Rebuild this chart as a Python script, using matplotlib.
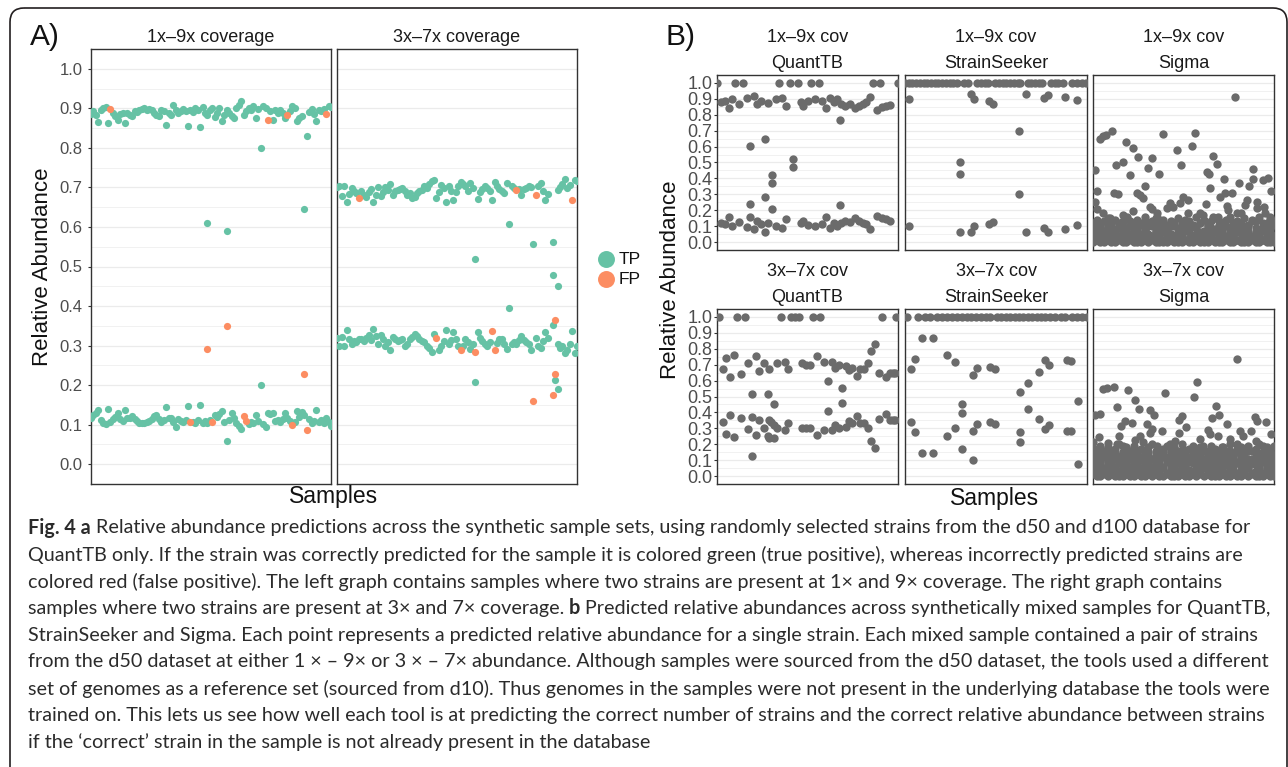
import matplotlib
matplotlib.use("Agg")
import matplotlib.pyplot as plt
from matplotlib.patches import FancyBboxPatch
from matplotlib.lines import Line2D

# ---------------- DATA ----------------
# Panel A : QuantTB, 100 samples per facet, values in thousandths (None = no point in band)
a19_hi = [885, 892, 883, 865, 895, 900, 903, 864, None, 888, 880, 871, 885, 888, 864, 888, 884, 880, 892, 890,
          896, 898, 900, 895, 898, 896, 888, 884, 880, 896, 893, 859, 888, 883, 909, 895, 888, 892, 898, 893,
          856, 896, 890, 900, 895, 853, 903, 888, 883, 895, 900, 878, 889, 900, 867, 884, 896, 888, 880, 875,
          900, 909, 918, 883, 893, 900, 896, 905, 875, 899, None, 907, 900, None, 892, 871, 896, 889, 896, 888,
          875, None, 893, 905, 900, 868, 875, 880, None, None, 890, 898, 886, 867, 896, 893, 898, None, 907, 903]
a19_lo = [118, 125, 130, 137, 112, 103, 101, 139, 107, 114, 120, 130, 114, 110, 137, 118, 116, 122, 114, 110,
          105, 103, 104, 106, 110, 114, 122, 124, 115, 106, 112, 145, 116, 118, 108, 94, 114, 110, 106, 112,
          146, None, 108, 105, 112, 150, 103, 109, 105, 112, None, 125, 120, 128, 134, 106, None, 112, 130, 118,
          105, 97, 88, None, None, 101, 108, 103, 125, 110, None, 101, 94, 130, 128, 130, 109, 112, 106, 115,
          129, 118, 110, None, 106, 135, 120, 133, 124, None, 114, 103, 110, 137, 106, 112, 105, 116, 108, 97]
a19_tp_x = [48, 56, 56, 70, 70, 88, 89]
a19_tp_y = [0.610, 0.590, 0.058, 0.800, 0.200, 0.645, 0.830]
a19_fp_x = [8, 73, 81, 97, 41, 50, 63, 64, 83, 89, 48, 56, 88]
a19_fp_y = [0.898, 0.871, 0.882, 0.886, 0.106, 0.106, 0.122, 0.110, 0.099, 0.087, 0.292, 0.350, 0.227]

a37_hi = [700, 704, 679, 703, 662, 684, 698, 692, 686, None, 690, 681, 676, 688, 695, 663, 682, 701, 678, 688,
          701, 694, 709, 682, 690, 693, 696, 698, 690, 682, 686, 674, 676, 686, 690, 694, 703, 698, 709, 715,
          720, 672, 688, 707, 698, 663, 704, 690, 668, 688, 703, 713, 708, 703, 692, 711, 698, None, 670, 688,
          695, 703, 698, 690, 667, 713, 703, 696, 692, 686, 711, None, 703, 698, None, 696, 680, 696, 698, 703,
          700, None, None, 703, 711, 690, 668, 684, None, None, None, 694, 701, 708, 721, 698, 705, None, 720, 715]
a37_lo = [318, 299, 322, 299, 339, 317, 303, 312, 308, 317, 316, 312, 320, 328, 315, 341, 324, 303, 328, 317,
          299, 310, 290, 321, 316, 312, 314, 317, 299, 305, 316, 322, 330, 324, 316, 312, 309, 299, 294, 284,
          330, None, 290, 300, 312, 339, 303, 315, 334, 317, 299, None, 299, 317, 308, 292, 305, None, 334, 320,
          312, 303, 299, 310, None, None, 307, 316, 317, 305, 292, None, 304, 310, 305, 315, 324, 314, 309, 303,
          288, None, 320, 300, 295, 312, 334, 320, None, None, None, 305, 295, 300, 282, 290, 303, 337, 282, 300]
a37_tp_x = [57, 57, 71, 71, 81, 89, 89, 91, 89, 90, 91]
a37_tp_y = [0.518, 0.208, 0.608, 0.396, 0.558, 0.563, 0.478, 0.450, 0.351, 0.213, 0.189]
a37_fp_x = [9, 74, 82, 97, 41, 51, 57, 64, 65, 90, 90, 81, 89]
a37_fp_y = [0.672, 0.694, 0.682, 0.667, 0.318, 0.289, 0.283, 0.336, 0.290, 0.364, 0.227, 0.159, 0.174]

# Panel B : sample positions (0-49) and predicted relative abundances
qt19_x = [0, 5.0, 7.0, 16.9, 19.8, 21.9, 25.5, 27.6, 42.2, 44.1, 48.9,
          1.0, 2.1, 3.2, 4.1, 5.9, 8.0, 10.0, 10.9, 12.0, 13.9, 15.9, 17.7, 18.7, 22.7, 23.4, 24.5, 26.5, 28.5,
          29.6, 30.6, 31.6, 32.4, 33.6, 34.6, 35.9, 37.4, 38.4, 39.5, 40.4, 41.3, 43.2, 44.7, 45.8, 46.9,
          33.4, 8.8, 12.9, 20.6, 20.6, 14.9, 14.9, 12.9, 14.9, 8.8, 33.4,
          1.0, 2.1, 3.2, 4.1, 5.9, 8.0, 8.8, 10.0, 10.9, 12.0, 12.9, 13.9, 15.9, 17.7, 18.7, 22.7, 23.4, 24.5,
          26.5, 28.5, 29.6, 30.6, 31.6, 32.4, 33.6, 34.6, 35.9, 37.4, 38.4, 39.5, 40.4, 41.3, 43.2, 44.7, 45.8, 46.9]
qt19_y = [1, 1, 1, 1, 1, 1, 1, 1, 1, 1, 1,
          .879, .889, .842, .896, .869, .904, .916, .869, .889, .873, .900, .904, .852, .879, .852, .889, .900, .885,
          .842, .904, .879, .896, .869, .852, .869, .840, .852, .865, .879, .910, .831, .848, .854, .862,
          .764, .602, .650, .525, .473, .421, .369, .281, .206, .2375, .233,
          .120, .115, .155, .100, .127, .094, .157, .083, .130, .115, .066, .120, .100, .090, .143, .120, .135, .110,
          .100, .115, .157, .090, .120, .100, .120, .135, .127, .148, .135, .120, .115, .083, .165, .150, .143, .135]

ss19_x = [0, 1, 2, 3, 4, 5, 6, 7, 8, 9, 10, 11, 12, 13, 14, 16, 17, 19.5, 20.5, 21.5, 22.3,
          24.3, 25.3, 26.3, 27.3, 28.3, 29.3, 30.3, 31, 33, 34, 35, 36, 37, 39.3, 40.3, 41.3, 42.5,
          45, 46.2, 47.6, 48.8,
          1.2, 1.2, 17.8, 18.7, 22.7, 23.8, 30.6, 14.9, 14.9, 30.6, 32.5, 37.5, 38.4, 43.2, 46.2,
          14.9, 17.8, 18.7, 22.7, 23.8, 32.5, 37.5, 38.4, 43.2, 46.2]
ss19_y = [1] * 42 + [.896, .102, .931, .896, .885, .869, .698, .502, .427, .300, .929, .906, .927, .914, .894,
                     .066, .066, .102, .114, .129, .066, .087, .066, .083, .108]

qt37_x = [0.5, 5.5, 7.5, 17.4, 19.9, 21.0, 22.2, 25.9, 28.0, 44.7, 48.5,
          1.6, 1.6, 2.5, 2.5, 3.5, 3.5, 4.5, 4.5, 6.4, 6.4, 8.5, 8.5, 9.5, 9.5, 9.5, 10.5, 10.5, 11.4, 11.4,
          12.6, 12.6, 13.8, 13.8, 14.0, 14.2, 14.2, 15.3, 14.7, 15.4, 15.3, 16.3, 16.3, 18.3, 18.3, 19.2, 19.2,
          23.1, 24.0, 25.1, 23.1, 24.0, 25.1, 27.0, 27.0, 28.9, 28.9, 30.0, 30.0, 31.0, 31.0, 32.0, 32.0,
          32.9, 32.9, 33.9, 33.9, 34.8, 34.8, 35.7, 35.7, 36.6, 36.6, 37.8, 37.8, 38.8, 39.7, 38.8, 39.7,
          40.8, 40.8, 41.7, 41.7, 42.8, 42.8, 43.8, 43.8, 45.8, 45.8, 46.7, 47.6, 48.3, 46.7, 47.6, 48.3]
qt37_y = [1, 1, 1, 1, 1, 1, 1, 1, 1, 1, 1,
          .675, .3375, .744, .264, .623, .383, .764, .244, .644, .3625, .7125, .296, .514, .3725, .125, .754, .26,
          .66, .35, .71, .30, .514, .25, .24, .67, .35, .452, .34, .32, .24, .71, .30, .72, .29, .675, .335,
          .71, .70, .70, .30, .305, .305, .755, .26, .72, .29, .60, .41, .72, .29, .68, .32,
          .70, .30, .552, .458, .69, .31, .665, .345, .68, .335, .63, .38, .675, .675, .335, .335,
          .71, .30, .785, .22, .833, .175, .65, .36, .62, .39, .65, .65, .65, .355, .355, .355]

ss37_x = [0.6, 3.4, 5.4, 6.6, 8.5, 9.9, 11.2, 12.6, 14.0, 15.3, 16.6, 17.9, 19.2, 20.5, 21.8, 22.9,
          24.7, 25.9, 27.1, 28.3, 29.5, 30.7, 31.9, 33.1, 34.3, 35.5, 36.7, 37.8, 39.1, 40.5, 41.9, 43.2,
          45.0, 46.3, 47.6, 48.9,
          1.6, 1.6, 2.7, 2.7, 4.7, 4.7, 7.5, 7.5, 11.4, 11.4, 13.4, 13.4, 15.4, 15.4, 15.4, 18.3, 18.3, 18.3,
          19.3, 19.3, 22.9, 24.3, 22.9, 24.3, 31.0, 31.0, 31.0, 33.0, 33.0, 36.0, 36.0, 37.8, 38.8, 37.8, 38.8,
          43.6, 44.7, 43.6, 44.7, 46.6, 46.6]
ss37_y = [1] * 36 + [.675, .34, .736, .279, .868, .143, .868, .143, .764, .25, .716, .30, .452, .394, .17,
                     .633, .285, .104, .679, .33, .687, .671, .338, .327, .531, .275, .216, .5875, .42,
                     .654, .358, .727, .696, .295, .32, .727, .723, .285, .285, .469, .077]

sg19_x = [38.4, 1.9, 2.8, 3.5, 5.1, 8.9, 10.9, 18.9, 22.8, 23.8, 26.7, 27.7, 12.1, 15.9, 32.6, 33.6, 6.1, 8.2,
          0.5, 10.0, 15.0, 17.9, 30.8, 31.3, 35.5, 43.4, 43.2, 14.0, 1.2, 31.7, 39.6, 42.3, 46.1, 47.3, 48.3,
          35.7, 37.5, 34.5, 5.8, 6.9, 11.8, 12.7, 13.6, 24.4, 25.8, 0.5, 1.2, 20.8, 21.7, 19.9, 15.4, 16.1,
          17.2, 8.0, 9.1, 10.9, 30.6, 29.0, 29.9, 36.2, 36.6, 41.6, 41.1, 40.2, 44.3, 44.5, 46.4, 46.5, 33.9,
          2.8, 4.6, 17.2, 23.5, 25.8, 32.6, 38.9, 47.9]
sg19_y = [.910, .650, .664, .670, .696, .629, .594, .681, .581, .487, .601, .685, .535, .529, .539, .489, .483, .504,
          .452, .421, .466, .427, .441, .427, .396, .456, .396, .354, .323, .337, .369, .354, .389, .400, .323,
          .310, .310, .285, .310, .302, .306, .296, .275, .281, .264, .254, .208, .244, .223, .212, .223, .206,
          .181, .171, .160, .192, .239, .181, .171, .227, .202, .264, .233, .181, .254, .212, .223, .181, .160,
          .181, .150, .160, .244, .180, .160, .180, .160]
# dense low-abundance predictions of Sigma (hundredths), one value per sample in each row
sg19_d1 = [0, 1, 0, 0, 1, 0, 0, 1, 0, 0, 1, 0, 0, 0, 1, 0, 1, 0, 0, 0, 0, 1, 0, 0, 0,
           1, 0, 0, 1, 0, 0, 0, 1, 0, 0, 0, 1, 0, 0, 1, 0, 0, 0, 1, 0, 0, 1, 0, 0, 0]
sg19_d2 = [3, 2, 4, 2, 3, 1, 2, 4, 3, 2, 2, 3, 1, 4, 2, 3, 2, 2, 4, 1, 3, 2, 2, 4, 3,
           1, 2, 3, 2, 4, 2, 3, 2, 1, 3, 4, 2, 2, 3, 1, 2, 4, 3, 2, 2, 3, 1, 3, 2, 4]
sg19_d3 = [5, 6, 4, 7, 5, 6, 5, 4, 6, 7, 5, 4, 6, 5, 7, 5, 4, 6, 5, 6, 7, 5, 4, 6, 5,
           7, 6, 4, 5, 6, 5, 7, 4, 6, 5, 6, 4, 7, 5, 6, 6, 5, 7, 4, 6, 5, 7, 5, 6, 4]
sg19_d4 = [9, 8, 11, 7, 10, 12, 8, 9, 13, 7, 10, 8, 9, 11, 8, 12, 10, 7, 9, 11, 8, 10, 12, 9, 7,
           11, 8, 10, 9, 12, 7, 11, 9, 8, 13, 9, 10, 8, 12, 9, 11, 8, 10, 13, 9, 7, 10, 12, 8, 11]
sg19_d5 = [12, 14, 10, 13, 15, 11, 14, 12, 10, 15, 13, 11, 14, 12, 16, 10, 13, 15, 12, 14, 11, 13, 10, 15, 12,
           14, 13, 11, 16, 12, 14, 10, 13, 15, 11, 12, 14, 16, 10, 13, 12, 15, 11, 14, 13, 16, 12, 10, 14, 13]

sg37_x = [38.9, 2.8, 3.7, 5.7, 9.6, 19.5, 28.2, 27.3, 11.5, 6.6, 12.5, 15.4, 33.2, 34.2, 32.2, 0.5, 1.9, 8.7,
          10.6, 14.5, 16.6, 23.4, 24.0, 36.2, 43.8, 44.5, 46.8, 1.7, 0.1, 7.6, 7.0, 12.7, 13.6, 16.1, 15.4,
          18.6, 25.3, 23.4, 31.2, 31.7, 33.9, 39.8, 40.7, 42.9, 48.3, 44.1, 4.1, 6.4, 8.2, 11.4, 17.2, 20.8,
          22.2, 29.0, 29.9, 35.3, 37.1, 38.9, 46.1, 24.4, 14.5, 1.0]
sg37_y = [.733, .546, .556, .562, .541, .520, .594, .500, .479, .431, .421, .414, .442, .385, .362, .385, .390, .348,
          .331, .327, .385, .352, .379, .327, .373, .348, .342, .244, .213, .313, .254, .254, .217, .296, .269,
          .285, .306, .269, .292, .265, .254, .285, .254, .285, .265, .223, .208, .202, .192, .229, .192, .202,
          .223, .233, .192, .181, .233, .202, .192, .171, .171, .171]
sg37_d1 = [1, 0, 0, 1, 0, 1, 0, 0, 0, 1, 0, 0, 1, 0, 0, 1, 0, 1, 0, 0, 1, 0, 0, 0, 1,
           0, 0, 1, 0, 1, 0, 1, 0, 0, 0, 1, 0, 0, 1, 0, 0, 1, 0, 1, 0, 0, 0, 1, 0, 0]
sg37_d2 = [3, 4, 2, 5, 3, 2, 4, 3, 5, 2, 4, 3, 2, 4, 5, 3, 2, 4, 3, 5, 2, 4, 3, 3, 5,
           2, 4, 2, 3, 4, 5, 3, 2, 4, 3, 5, 2, 4, 3, 2, 4, 3, 5, 2, 3, 4, 2, 5, 3, 4]
sg37_d3 = [7, 6, 8, 5, 9, 7, 6, 8, 7, 9, 6, 8, 7, 5, 8, 9, 6, 7, 8, 6, 9, 7, 5, 8, 6,
           7, 9, 8, 6, 7, 8, 6, 9, 7, 5, 8, 7, 9, 6, 8, 7, 9, 6, 8, 7, 5, 9, 6, 8, 7]
sg37_d4 = [10, 11, 9, 12, 10, 8, 11, 12, 9, 10, 12, 9, 11, 10, 8, 12, 11, 9, 10, 12, 11, 8, 10, 12, 9,
           11, 10, 12, 9, 11, 10, 12, 8, 11, 10, 9, 12, 10, 11, 9, 12, 10, 11, 8, 12, 10, 9, 11, 12, 10]
sg37_d5 = [14, 12, 15, 13, 11, 16, 14, 12, 15, 13, 11, 14, 16, 12, 13, 15, 11, 14, 13, 16, 12, 15, 13, 11, 14,
           16, 12, 15, 13, 14, 11, 16, 13, 15, 12, 14, 11, 16, 13, 15, 12, 14, 16, 11, 15, 13, 14, 12, 16, 13]
sg37_d6 = [17, 15, 19, 16, 18, 14, 17, 20, 15, 18, 16, 19, 14, 17, 15, 18, 20, 16, 14, 17, 19, 15, 18, 16, 20,
           14, 17, 19, 15, 18, 16, 14, 19, 17, 15, 18, 16, 20, 14, 17, 18, 15, 19, 16, 17, 20, 15, 18, 16, 19]

y_ticks = [0.0, 0.1, 0.2, 0.3, 0.4, 0.5, 0.6, 0.7, 0.8, 0.9, 1.0]
y_minor = [0.05, 0.15, 0.25, 0.35, 0.45, 0.55, 0.65, 0.75, 0.85, 0.95]
y_labels = ["0.0", "0.1", "0.2", "0.3", "0.4", "0.5", "0.6", "0.7", "0.8", "0.9", "1.0"]

caption = [
    [("Fig. 4 a", True), ("Relative abundance predictions across the synthetic sample sets, using randomly selected strains from the d50 and d100 database for", False)],
    [("QuantTB only. If the strain was correctly predicted for the sample it is colored green (true positive), whereas incorrectly predicted strains are", False)],
    [("colored red (false positive). The left graph contains samples where two strains are present at 1× and 9× coverage. The right graph contains", False)],
    [("samples where two strains are present at 3× and 7× coverage.", False), ("b", True), ("Predicted relative abundances across synthetically mixed samples for QuantTB,", False)],
    [("StrainSeeker and Sigma. Each point represents a predicted relative abundance for a single strain. Each mixed sample contained a pair of strains", False)],
    [("from the d50 dataset at either 1 × – 9× or 3 × – 7× abundance. Although samples were sourced from the d50 dataset, the tools used a different", False)],
    [("set of genomes as a reference set (sourced from d10). Thus genomes in the samples were not present in the underlying database the tools were", False)],
    [("trained on. This lets us see how well each tool is at predicting the correct number of strains and the correct relative abundance between strains", False)],
    [("if the ‘correct’ strain in the sample is not already present in the database", False)],
]

# ---------------- STYLE ----------------
W, H = 1288, 767
TP_C, FP_C, GREY_PT = "#66C2A5", "#FC8D62", "#6B6B6B"
FONT = ["Liberation Sans", "DejaVu Sans"]
CAP_FONT = ["Lato", "DejaVu Sans"]
plt.rcParams["font.family"] = FONT

fig = plt.figure(figsize=(W / 100, H / 100), dpi=100)
fig.patch.set_facecolor("white")


def add_ax(x0, y0, x1, y1):
    return fig.add_axes([x0 / W, 1 - y1 / H, (x1 - x0) / W, (y1 - y0) / H])


def ftext(x, y, s, **kw):
    return fig.text(x / W, 1 - y / H, s, **kw)


def style(ax, xmax, labels=True, size=12, pad=3.5, tlen=2.5):
    ax.set_xlim(0, xmax)
    ax.set_ylim(-0.05, 1.05)
    ax.set_xticks([])
    ax.set_yticks(y_ticks)
    ax.set_yticklabels(y_labels)
    ax.set_yticks(y_minor, minor=True)
    ax.grid(axis="y", which="major", color="#EBEBEB", lw=0.9)
    ax.grid(axis="y", which="minor", color="#EFEFEF", lw=0.6)
    ax.set_axisbelow(True)
    for sp in ax.spines.values():
        sp.set_color("#333333")
        sp.set_linewidth(1.0)
    ax.tick_params(axis="y", which="minor", length=0)
    if labels:
        ax.tick_params(axis="y", which="major", labelsize=size, color="#333333",
                       labelcolor="#4D4D4D", length=tlen, width=0.8, pad=pad)
    else:
        ax.tick_params(axis="y", which="major", labelleft=False, length=0)


def band(vals):
    xs = [i for i, v in enumerate(vals) if v is not None]
    ys = [v / 1000 for v in vals if v is not None]
    return xs, ys


SA = 27
SB = 36

# ---- Panel A ----
for (x0, x1), hi, lo, tpx, tpy, fpx, fpy, lab, title in [
        ((91, 331), a19_hi, a19_lo, a19_tp_x, a19_tp_y, a19_fp_x, a19_fp_y, True, "1x–9x coverage"),
        ((337, 577), a37_hi, a37_lo, a37_tp_x, a37_tp_y, a37_fp_x, a37_fp_y, False, "3x–7x coverage")]:
    ax = add_ax(x0, 49, x1, 484)
    style(ax, 99, labels=lab)
    for vals in (hi, lo):
        xs, ys = band(vals)
        ax.scatter(xs, ys, s=SA, color=TP_C, linewidths=0, zorder=3)
    ax.scatter(tpx, tpy, s=SA, color=TP_C, linewidths=0, zorder=3)
    ax.scatter(fpx, fpy, s=SA, color=FP_C, linewidths=0, zorder=4)
    ftext((x0 + x1) / 2, 37, title, ha="center", va="center", fontsize=13, color="#1A1A1A")

# ---- Panel B ----
cols = [(717, 898), (905, 1087), (1093, 1274)]
rows = [(75, 250, "1x–9x cov", 37, 63), (309, 484, "3x–7x cov", 271, 298)]
tools = ["QuantTB", "StrainSeeker", "Sigma"]
row_data = [
    [(qt19_x, qt19_y), (ss19_x, ss19_y), (sg19_x, sg19_y, [sg19_d1, sg19_d2, sg19_d3, sg19_d4, sg19_d5])],
    [(qt37_x, qt37_y), (ss37_x, ss37_y), (sg37_x, sg37_y, [sg37_d1, sg37_d2, sg37_d3, sg37_d4, sg37_d5, sg37_d6])],
]
for (y0, y1, cov, ty1, ty2), pdata in zip(rows, row_data):
    for ci, ((x0, x1), tool, d) in enumerate(zip(cols, tools, pdata)):
        ax = add_ax(x0, y0, x1, y1)
        style(ax, 49, labels=(ci == 0), size=13, pad=0.8, tlen=2.5)
        ax.scatter(d[0], d[1], s=SB, color=GREY_PT, linewidths=0, zorder=3)
        if len(d) > 2:
            for row in d[2]:
                ax.scatter(list(range(len(row))), [v / 100 for v in row], s=SB, color=GREY_PT,
                           linewidths=0, zorder=3)
        cx = (x0 + x1) / 2
        ftext(cx, ty1, cov, ha="center", va="center", fontsize=13, color="#1A1A1A")
        ftext(cx, ty2, tool, ha="center", va="center", fontsize=13, color="#1A1A1A")

# ---- labels ----
ftext(30, 37, "A)", ha="left", va="center", fontsize=21.5, color="#111111")
ftext(666, 37, "B)", ha="left", va="center", fontsize=21.5, color="#111111")
ftext(43, 267, "Relative Abundance", rotation=90, ha="center", va="center", fontsize=16, color="#111111")
ftext(670, 280, "Relative Abundance", rotation=90, ha="center", va="center", fontsize=16, color="#111111")
ftext(334, 497, "Samples", ha="center", va="center", fontsize=16.5, color="#111111")
ftext(995, 498, "Samples", ha="center", va="center", fontsize=16.5, color="#111111")

# legend
ov = fig.add_axes([0, 0, 1, 1], zorder=10)
ov.set_xlim(0, W)
ov.set_ylim(H, 0)
ov.axis("off")
for yy, c, lab in [(259, TP_C, "TP"), (279, FP_C, "FP")]:
    ov.add_line(Line2D([606], [yy], marker="o", markersize=12.2, color=c, markeredgewidth=0, linestyle="none"))
    ov.text(619, yy, lab, ha="left", va="center", fontsize=12.5, color="#111111")

# outer rounded frame
frame = FancyBboxPatch((10, 8), 1277, 820, boxstyle="round,pad=0,rounding_size=14",
                       fill=False, ec="#231F20", lw=1.2, clip_on=False)
ov.add_patch(frame)

# ---- caption ----
renderer = fig.canvas.get_renderer()


def width_of(s, bold, fs):
    t = ov.text(0, 0, s, fontsize=fs, family=CAP_FONT, fontweight="bold" if bold else "normal")
    w = t.get_window_extent(renderer).width
    t.remove()
    return w


def line_width(segs, fs):
    sp = width_of("a a", False, fs) - width_of("aa", False, fs)
    return sum(width_of(s, b, fs) for s, b in segs) + sp * (len(segs) - 1)


CAP_X0, CAP_X1 = 28, 1256
fs0 = 14.0
fs = fs0 * (CAP_X1 - CAP_X0) / line_width(caption[0], fs0)
space = width_of("a a", False, fs) - width_of("aa", False, fs)
y = 528
for segs in caption:
    x = CAP_X0
    for s, b in segs:
        t = ov.text(x, y, s, fontsize=fs, family=CAP_FONT, fontweight="bold" if b else "normal",
                    ha="left", va="center", color="#2B2B2B")
        x += t.get_window_extent(renderer).width + space
    y += 26.8

fig.savefig("out.png", dpi=100, facecolor="white")
